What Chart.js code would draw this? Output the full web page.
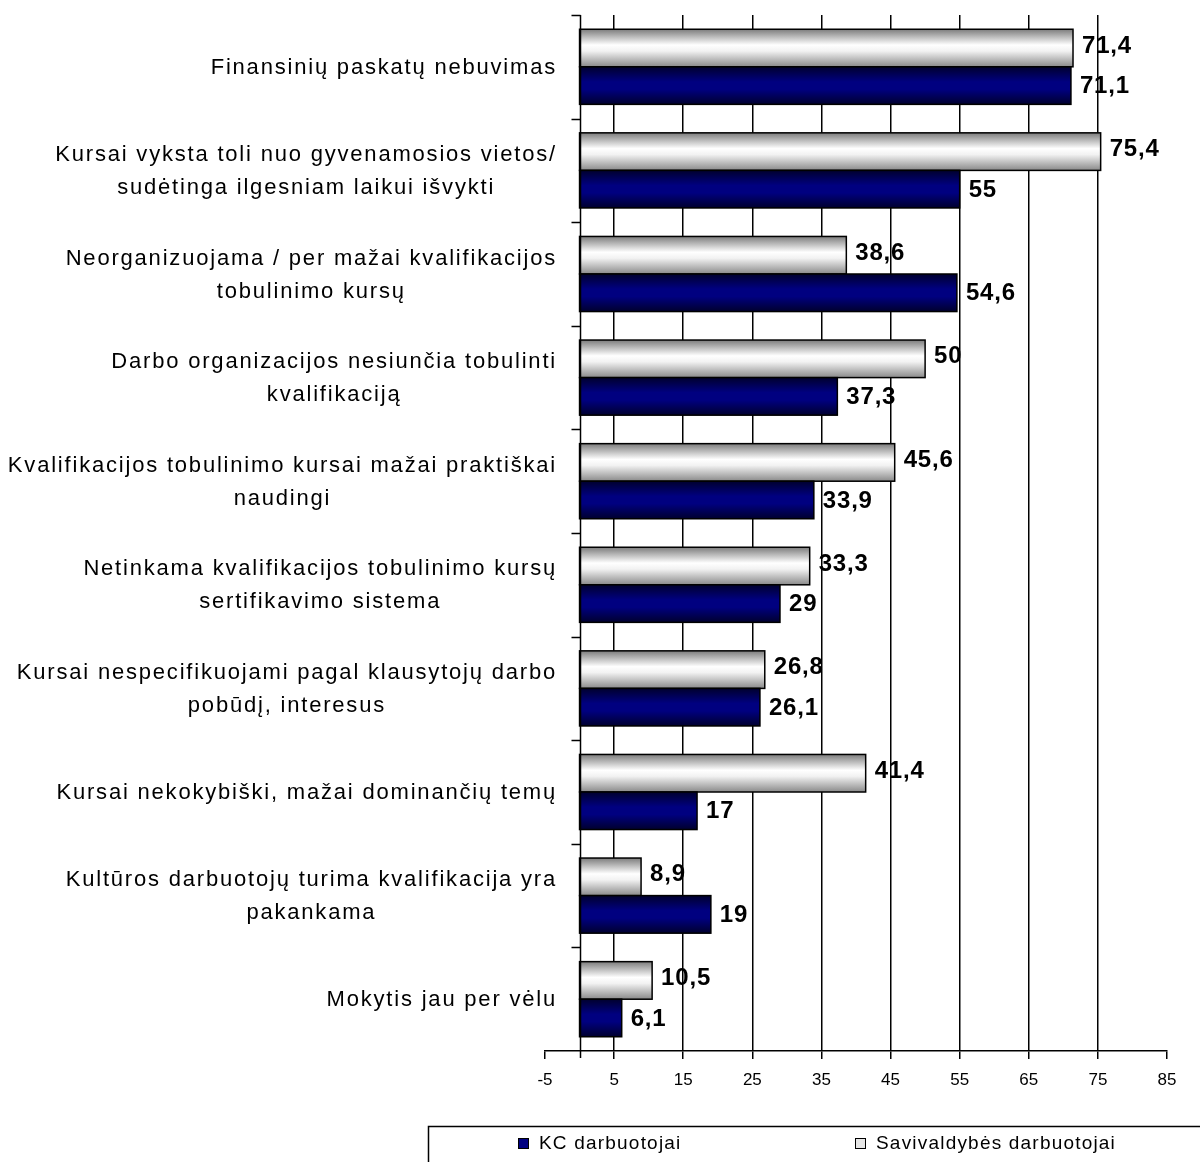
<!DOCTYPE html>
<html>
<head>
<meta charset="utf-8">
<script src="https://cdn.jsdelivr.net/npm/chart.js@4/dist/chart.umd.min.js"></script>
<style>
  html, body { margin: 0; padding: 0; background: #fff; }
</style>
</head>
<body>
<canvas id="myChart" width="1200" height="1162"></canvas>
<script>
// category labels, top to bottom (line breaks as in the original)
const categories = [
  ['Finansinių paskatų nebuvimas'],
  ['Kursai vyksta toli nuo gyvenamosios vietos/', 'sudėtinga ilgesniam laikui išvykti'],
  ['Neorganizuojama / per mažai kvalifikacijos', 'tobulinimo kursų'],
  ['Darbo organizacijos nesiunčia tobulinti', 'kvalifikaciją'],
  ['Kvalifikacijos tobulinimo kursai mažai praktiškai', 'naudingi'],
  ['Netinkama kvalifikacijos tobulinimo kursų', 'sertifikavimo sistema'],
  ['Kursai nespecifikuojami pagal klausytojų darbo', 'pobūdį, interesus'],
  ['Kursai nekokybiški, mažai dominančių temų'],
  ['Kultūros darbuotojų turima kvalifikacija yra', 'pakankama'],
  ['Mokytis jau per vėlu']
];
const savivaldybes = [71.4, 75.4, 38.6, 50, 45.6, 33.3, 26.8, 41.4, 8.9, 10.5];
const kc = [71.1, 55, 54.6, 37.3, 33.9, 29, 26.1, 17, 19, 6.1];
const xTicks = [-5, 5, 15, 25, 35, 45, 55, 65, 75, 85];

const FONT = '"Liberation Sans", Arial, sans-serif';

// gradient stops per dataset (grey cylinder look / navy)
const shades = [
  [[0, '#7c7c7c'], [0.42, '#ffffff'], [0.58, '#f2f2f2'], [1, '#8a8a8a']],
  [[0, '#00002e'], [0.4, '#000080'], [0.6, '#000080'], [1, '#00002e']]
];

function fmt(v) {
  return String(v).replace('.', ',');
}

const drawExtras = {
  id: 'drawExtras',
  beforeDraw(chart) {
    // value labels go under the grid lines, like the original
    const c = chart.ctx;
    c.save();
    c.font = 'bold 24px ' + FONT;
    c.letterSpacing = '0.8px';
    c.fillStyle = '#000';
    c.textAlign = 'left';
    c.textBaseline = 'middle';
    chart.data.datasets.forEach((ds, di) => {
      chart.getDatasetMeta(di).data.forEach((bar, i) => {
        const p = bar.getProps(['x', 'y'], true);
        c.fillText(fmt(ds.data[i]), p.x + 9, p.y + (di === 0 ? -2 : 1));
      });
    });
    c.restore();
  },
  afterDatasetsDraw(chart) {
    const c = chart.ctx;
    const xs = chart.scales.x, ys = chart.scales.y;
    const area = chart.chartArea;

    chart.data.datasets.forEach((ds, di) => {
      chart.getDatasetMeta(di).data.forEach((bar) => {
        const p = bar.getProps(['x', 'y', 'base', 'height'], true);
        const top = p.y - p.height / 2;
        const g = c.createLinearGradient(0, top, 0, top + p.height);
        shades[di].forEach(s => g.addColorStop(s[0], s[1]));
        c.save();
        c.fillStyle = g;
        c.fillRect(p.base, top, p.x - p.base, p.height);
        c.lineWidth = 1.5;
        c.strokeStyle = '#000';
        c.strokeRect(p.base, top, p.x - p.base, p.height);
        c.restore();
      });
    });

    // category axis at x = 0 with boundary ticks
    const x0 = Math.round(xs.getPixelForValue(0)) + 0.5;
    const step = (ys.bottom - ys.top) / categories.length;
    c.save();
    c.strokeStyle = '#000';
    c.lineWidth = 1.5;
    c.beginPath();
    c.moveTo(x0, area.top);
    c.lineTo(x0, area.bottom + 7);
    for (let i = 0; i < categories.length; i++) {
      const yb = Math.round(ys.getPixelForValue(i) - step / 2) + 0.5;
      c.moveTo(x0 - 9, yb);
      c.lineTo(x0, yb);
    }
    c.stroke();
    c.restore();
  },
  afterDraw(chart) {
    const c = chart.ctx;
    const ys = chart.scales.y;
    c.save();
    c.font = '22px ' + FONT;
    c.letterSpacing = '1.8px';
    c.fillStyle = '#000';
    c.textAlign = 'center';
    c.textBaseline = 'middle';
    const right = 557;
    const lineH = 33;
    categories.forEach((lines, i) => {
      const yc = ys.getPixelForValue(i) + 1;
      const w = Math.max(...lines.map(l => c.measureText(l).width));
      const cx = right - w / 2;
      lines.forEach((l, k) => {
        c.fillText(l, cx, yc + (k - (lines.length - 1) / 2) * lineH);
      });
    });
    c.restore();

    // legend box at the bottom (KC first, as in the original)
    c.save();
    c.strokeStyle = '#000';
    c.lineWidth = 1.5;
    c.strokeRect(428.5, 1126.5, 900, 100);
    c.font = '19px ' + FONT;
    c.letterSpacing = '1.2px';
    c.textBaseline = 'middle';
    c.textAlign = 'left';
    const items = [
      { ds: 1, x: 518, fill: '#000080' },
      { ds: 0, x: 855, fill: '#e6e6e6' }
    ];
    items.forEach(it => {
      c.fillStyle = it.fill;
      c.fillRect(it.x, 1138, 11, 11);
      c.strokeStyle = '#000';
      c.lineWidth = 1;
      c.strokeRect(it.x + 0.5, 1138.5, 10, 10);
      c.fillStyle = '#000';
      c.fillText(chart.data.datasets[it.ds].label, it.x + 21, 1144);
    });
    c.restore();
  }
};

const ctx = document.getElementById('myChart').getContext('2d');
const chart = new Chart(ctx, {
  type: 'bar',
  data: {
    labels: categories,
    datasets: [
      {
        label: 'Savivaldybės darbuotojai',
        data: savivaldybes,
        backgroundColor: '#e6e6e6',
        borderWidth: 0
      },
      {
        label: 'KC darbuotojai',
        data: kc,
        backgroundColor: '#000080',
        borderWidth: 0
      }
    ]
  },
  options: {
    indexAxis: 'y',
    responsive: false,
    animation: false,
    categoryPercentage: 0.725,
    barPercentage: 1,
    layout: { padding: { left: 545, right: 33, top: 15, bottom: 66 } },
    plugins: {
      legend: { display: false },
      tooltip: { enabled: false }
    },
    scales: {
      x: {
        type: 'linear',
        min: -5,
        max: 85,
        afterBuildTicks: s => { s.ticks = xTicks.map(v => ({ value: v })); },
        afterFit: s => { s.height = 45; },
        grid: {
          color: c => (c.tick && (c.tick.value === -5 || c.tick.value === 85)) ? 'rgba(0,0,0,0)' : '#000',
          lineWidth: 1.5,
          tickLength: 8,
          tickColor: '#000',
          tickWidth: 1.5
        },
        border: { display: true, color: '#000', width: 1.5 },
        ticks: {
          font: { family: FONT, size: 17 },
          color: '#000',
          padding: 11,
          maxRotation: 0,
          autoSkip: false
        }
      },
      y: {
        display: false
      }
    }
  },
  plugins: [drawExtras]
});
</script>
</body>
</html>
